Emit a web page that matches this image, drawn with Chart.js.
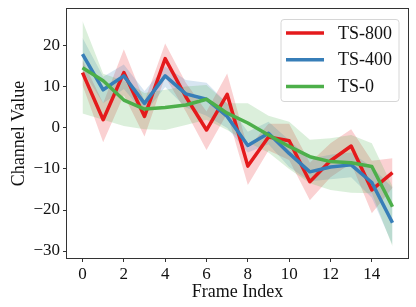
<!DOCTYPE html>
<html><head><meta charset="utf-8">
<script src="https://cdn.jsdelivr.net/npm/chart.js@4/dist/chart.umd.min.js"></script>
<style>html,body{margin:0;padding:0;background:#fff;}canvas{display:block;}</style>
</head><body>
<canvas id="c" width="416" height="307"></canvas>
<script>
// ---- data ----
const frames = [0,1,2,3,4,5,6,7,8,9,10,11,12,13,14,15];
const seriesNames = ['TS-800','TS-400','TS-0'];
const ts800   = [13.5, 2.0, 13.5, 2.8, 16.9, 7.6, -0.5, 8.2, -9.3, -2.2, -3.1, -13.1, -8.0, -4.4, -15.1, -10.9];
const ts800Hi = [16.5, 6.0, 19.2, 6.5, 20.6, 11.0, 4.0, 13.3, -5.0, 1.0, 1.0, -8.5, -3.7, -0.3, -8.0, -7.4];
const ts800Lo = [10.5, -3.5, 8.0, -2.1, 12.5, 4.0, -5.4, 3.5, -13.9, -5.5, -7.8, -17.6, -12.0, -8.6, -20.8, -14.6];
const ts400   = [18.0, 9.3, 12.7, 6.0, 12.7, 8.3, 7.0, 2.8, -4.3, -1.3, -6.2, -10.7, -9.5, -9.0, -13.3, -23.1];
const ts400Hi = [22.0, 12.5, 15.5, 9.0, 15.0, 11.7, 11.0, 6.0, -0.9, 1.5, -3.0, -7.5, -6.5, -6.0, -9.5, -14.5];
const ts400Lo = [14.0, 6.0, 9.5, 3.5, 10.0, 5.0, 3.0, 0.0, -6.0, -4.0, -9.5, -13.0, -12.5, -12.0, -17.0, -28.5];
const ts0     = [14.7, 11.5, 6.8, 4.6, 5.0, 5.6, 7.0, 3.6, 1.2, -1.7, -4.5, -7.0, -8.2, -8.5, -9.4, -19.2];
const ts0Hi   = [26.1, 13.2, 11.5, 8.5, 9.3, 10.1, 10.5, 6.0, 6.0, 3.0, 1.5, -2.9, -2.5, -1.7, -3.7, -14.3];
const ts0Lo   = [3.5, 2.0, 0.5, -0.3, -0.5, 0.7, 2.0, -0.5, -3.5, -6.0, -10.0, -13.5, -15.1, -15.8, -15.9, -28.9];
const xTicks = [0,2,4,6,8,10,12,14];
const yTicks = [-30,-20,-10,0,10,20];
const xLabel = 'Frame Index';
const yLabel = 'Channel Value';

// ---- styles ----
const colors = ['#e41a1c', '#377eb8', '#4daf4a'];
const bandColors = ['rgba(228,26,28,0.2)', 'rgba(55,126,184,0.2)', 'rgba(77,175,74,0.2)'];
const FONT = '"Liberation Serif", "Times New Roman", serif';

const pts = arr => frames.map((f, i) => ({x: f, y: arr[i]}));
const means = [ts800, ts400, ts0];
const highs = [ts800Hi, ts400Hi, ts0Hi];
const lows = [ts800Lo, ts400Lo, ts0Lo];

const datasets = [];
for (let s = 0; s < 3; s++) {
  datasets.push({label: '', isBand: true, data: pts(highs[s]), borderWidth: 0, pointRadius: 0,
    backgroundColor: bandColors[s], fill: '+1', order: 20 - s, tension: 0});
  datasets.push({label: '', isBand: true, data: pts(lows[s]), borderWidth: 0, pointRadius: 0,
    backgroundColor: bandColors[s], fill: false, order: 20 - s, tension: 0});
}
for (let s = 0; s < 3; s++) {
  datasets.push({label: seriesNames[s], data: pts(means[s]), borderColor: colors[s], borderWidth: 3.5,
    pointRadius: 0, fill: false, order: 3 - s, tension: 0, borderJoinStyle: 'round', borderCapStyle: 'butt'});
}

const framePlugin = {
  id: 'frameAndLegend',
  afterDatasetsDraw(chart) {
    const ctx = chart.ctx, a = chart.chartArea;
    ctx.save();
    ctx.strokeStyle = '#333';
    ctx.lineWidth = 1;
    ctx.strokeRect(Math.round(a.left) - 0.5, Math.round(a.top) - 0.5, Math.round(a.right - a.left) + 1, Math.round(a.bottom - a.top) + 1);
    // legend
    const bx = a.right - 127, by = a.top + 10.5, bw = 118, bh = 82, r = 3;
    ctx.beginPath();
    ctx.moveTo(bx + r, by);
    ctx.arcTo(bx + bw, by, bx + bw, by + bh, r);
    ctx.arcTo(bx + bw, by + bh, bx, by + bh, r);
    ctx.arcTo(bx, by + bh, bx, by, r);
    ctx.arcTo(bx, by, bx + bw, by, r);
    ctx.closePath();
    ctx.fillStyle = 'rgba(255,255,255,0.8)';
    ctx.fill();
    ctx.strokeStyle = '#d6d6d6';
    ctx.lineWidth = 1;
    ctx.stroke();
    const items = chart.data.datasets.filter(d => !d.isBand);
    items.forEach((d, i) => {
      const y = by + 13.5 + i * 26.7;
      ctx.beginPath();
      ctx.moveTo(bx + 5, y);
      ctx.lineTo(bx + 43, y);
      ctx.strokeStyle = d.borderColor;
      ctx.lineWidth = 3.5;
      ctx.stroke();
      ctx.fillStyle = '#111';
      ctx.font = '18px ' + FONT;
      ctx.textBaseline = 'middle';
      ctx.textAlign = 'left';
      ctx.fillText(d.label, bx + 57, y + 1);
    });
    ctx.restore();
  }
};

const noPad = sc => { sc.paddingTop = 0; sc.paddingBottom = 0; sc.paddingLeft = 0; sc.paddingRight = 0; };

new Chart(document.getElementById('c'), {
  type: 'line',
  data: {datasets},
  options: {
    responsive: false,
    animation: false,
    devicePixelRatio: 1,
    layout: {padding: {top: 9, right: 8, left: 0, bottom: 0}},
    plugins: {legend: {display: false}, tooltip: {enabled: false}},
    scales: {
      x: {
        type: 'linear', min: -0.75, max: 15.75,
        afterBuildTicks: sc => { sc.ticks = xTicks.map(v => ({value: v})); },
        afterFit: sc => { sc.height = 49; noPad(sc); },
        grid: {drawOnChartArea: false, drawTicks: true, tickLength: 4, color: '#333'},
        border: {display: false},
        ticks: {font: {family: FONT, size: 17}, color: '#111', padding: 2, maxRotation: 0, autoSkip: false},
        title: {display: true, text: xLabel, font: {family: FONT, size: 18}, color: '#111', padding: {top: 0, bottom: 4}}
      },
      y: {
        type: 'linear', min: -31.7, max: 29.0,
        afterBuildTicks: sc => { sc.ticks = yTicks.map(v => ({value: v})); },
        afterFit: sc => { sc.width = 67; noPad(sc); },
        grid: {drawOnChartArea: false, drawTicks: true, tickLength: 4, color: '#333'},
        border: {display: false},
        ticks: {font: {family: FONT, size: 17}, color: '#111', padding: 3, autoSkip: false,
          callback: v => (v < 0 ? '\u2212' + Math.abs(v) : String(v))},
        title: {display: true, text: yLabel, font: {family: FONT, size: 18}, color: '#111', padding: {top: 8, bottom: 0}}
      }
    }
  },
  plugins: [framePlugin]
});
</script>
</body></html>
